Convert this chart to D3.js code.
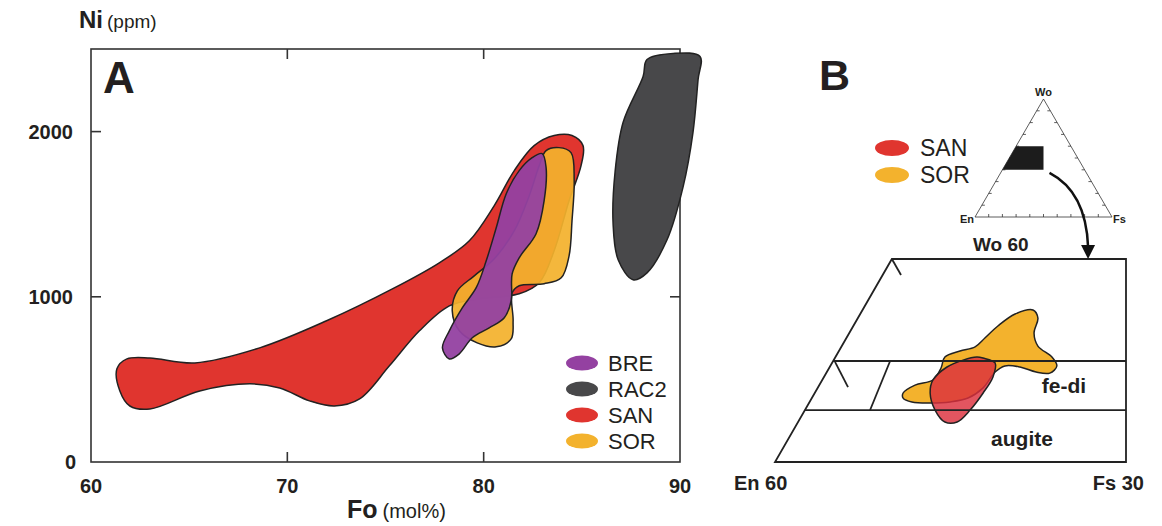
<!DOCTYPE html>
<html>
<head>
<meta charset="utf-8">
<script src="https://cdn.jsdelivr.net/npm/d3@7"></script>
<style>
    body { margin: 0; background: #fff; }
    text { font-family: "Liberation Sans", Arial, sans-serif; fill: #231f20; }
    .frame { fill: none; stroke: #333; stroke-width: 1.6; }
    .tick { stroke: #333; stroke-width: 1.6; }
    .field { stroke: #222; stroke-width: 1.5; stroke-linejoin: round; }
    .bline { fill: none; stroke: #222; stroke-width: 1.8; }
    .tri { fill: none; stroke: #333; stroke-width: 0.8; }
</style>
</head>
<body>
<script>
//panel A tick values
var xTicks = [60, 70, 80, 90],
    yTicks = [0, 1000, 2000];

//panel A fields as [Fo, Ni] outlines
var sanA = [[61.32, 564], [61.83, 624], [63.0, 630], [65.29, 600], [68.59, 691], [72.0, 855],
    [75.35, 1048], [77.74, 1206], [79.27, 1339], [80.54, 1552], [81.56, 1764], [82.57, 1915],
    [83.59, 1976], [84.5, 1976], [85.06, 1915], [84.96, 1794], [84.35, 1582], [83.59, 1279],
    [82.83, 1085], [81.81, 1018], [79.78, 988], [78.25, 945], [76.73, 794], [75.2, 582],
    [73.68, 382], [72.4, 339], [71.13, 370], [69.61, 448], [68.08, 473], [65.54, 430],
    [63.0, 321], [61.98, 339], [61.47, 430]];
var sorA = [[83.18, 1885], [83.84, 1903], [84.45, 1873], [84.61, 1703], [84.5, 1461], [84.35, 1248],
    [83.95, 1115], [83.08, 1079], [81.81, 1067], [81.45, 1024], [81.5, 855], [81.4, 745],
    [80.64, 697], [79.67, 721], [78.76, 794], [78.4, 915], [78.66, 1036], [79.52, 1127],
    [80.54, 1230], [81.56, 1400], [82.32, 1612], [82.83, 1794]];
var breA = [[82.98, 1867], [83.18, 1782], [83.08, 1582], [82.67, 1382], [81.81, 1236], [81.45, 1139],
    [81.4, 976], [81.05, 873], [80.28, 812], [79.42, 752], [78.76, 655], [78.25, 624],
    [77.9, 691], [78.25, 794], [78.91, 933], [79.62, 1055], [80.13, 1218], [80.64, 1418],
    [81.15, 1624], [81.81, 1764], [82.47, 1842]];
var racA = [[88.32, 2436], [89.65, 2473], [91.02, 2455], [90.92, 2315], [90.66, 1994], [90.16, 1667],
    [89.34, 1345], [88.32, 1145], [87.61, 1103], [86.85, 1224], [86.59, 1448], [86.69, 1752],
    [87.1, 2055], [88.12, 2333]];

//legend entries
var legendA = ["BRE", "RAC2", "SAN", "SOR"],
    legendB = ["SAN", "SOR"];
var colors = {BRE: "#9441a1", RAC2: "#48484a", SAN: "#e0352f", SOR: "#f3b22d"};

//panel B fields in quadrilateral units [u, v]
var sorB = [[36.5, 34.0], [39.9, 37.9], [45.0, 40.4], [47.3, 46.3], [48.4, 51.7], [52.7, 54.7],
    [57.0, 56.7], [59.8, 61.1], [63.5, 67.0], [68.4, 72.9], [73.5, 74.9], [74.9, 70.9],
    [73.8, 63.5], [74.9, 57.1], [78.9, 51.7], [80.3, 47.3], [78.3, 43.8], [74.4, 44.3],
    [69.8, 46.8], [65.5, 47.3], [62.7, 44.3], [59.3, 36.5], [55.0, 31.5], [49.9, 29.6],
    [44.2, 29.1], [39.0, 29.6], [36.5, 31.5]];
var sanB = [[59.3, 51.2], [62.7, 48.8], [62.1, 41.9], [59.3, 34.0], [55.6, 25.6], [51.9, 19.7],
    [48.4, 19.7], [45.6, 25.6], [44.2, 34.0], [45.0, 40.4], [49.0, 46.8], [53.6, 50.2],
    [57.5, 51.7]];

//quadrilateral outline and dividers
var quad = [[0, 0], [100, 0], [100, 100], [33.3, 100]],
    divLevels = [25.6, 49.75],
    slantLine = [[32.8, 49.75], [27.1, 25.6]],
    tieLines = [[[33.3, 100], [35.9, 92.1]], [[17.1, 49.3], [20.8, 36.9]]];

//small ternary inset, [Wo, En, Fs]
var triCorners = [[100, 0, 0], [0, 100, 0], [0, 0, 100]],
    triBox = [[60, 40, 0], [60, 20, 20], [40, 30, 30], [40, 60, 0]];

function setChart(){
    var width = 1162,
        height = 526;

    var svg = d3.select("body")
        .append("svg")
        .attr("width", width)
        .attr("height", height);

    // ---------- panel A ----------
    var x = d3.scaleLinear().domain([60, 90]).range([91, 680]);
    var y = d3.scaleLinear().domain([0, 2500]).range([462, 49]);

    var field = d3.line()
        .x(function(d){ return x(d[0]); })
        .y(function(d){ return y(d[1]); })
        .curve(d3.curveCatmullRomClosed.alpha(0.5));

    svg.append("rect")
        .attr("class", "frame")
        .attr("x", x(60))
        .attr("y", y(2500))
        .attr("width", x(90) - x(60))
        .attr("height", y(0) - y(2500));

    //inward ticks on all four sides
    [70, 80].forEach(function(v){
        svg.append("line").attr("class", "tick")
            .attr("x1", x(v)).attr("x2", x(v)).attr("y1", y(0)).attr("y2", y(0) - 10);
        svg.append("line").attr("class", "tick")
            .attr("x1", x(v)).attr("x2", x(v)).attr("y1", y(2500)).attr("y2", y(2500) + 10);
    });
    [1000, 2000].forEach(function(v){
        svg.append("line").attr("class", "tick")
            .attr("x1", x(60)).attr("x2", x(60) + 10).attr("y1", y(v)).attr("y2", y(v));
        svg.append("line").attr("class", "tick")
            .attr("x1", x(90)).attr("x2", x(90) - 10).attr("y1", y(v)).attr("y2", y(v));
    });

    //fields
    svg.append("path").datum(sanA).attr("class", "field")
        .attr("fill", colors.SAN).attr("d", field);
    svg.append("path").datum(sorA).attr("class", "field")
        .attr("fill", colors.SOR).attr("fill-opacity", 0.93).attr("d", field);
    svg.append("path").datum(breA).attr("class", "field")
        .attr("fill", colors.BRE).attr("fill-opacity", 0.95).attr("d", field);
    svg.append("path").datum(racA).attr("class", "field")
        .attr("fill", colors.RAC2).attr("d", field);

    //tick labels
    svg.selectAll(".xlab")
        .data(xTicks)
        .enter()
        .append("text")
        .attr("x", function(d){ return x(d); })
        .attr("y", 493)
        .attr("text-anchor", "middle")
        .attr("font-size", 20)
        .attr("font-weight", "bold")
        .text(function(d){ return d; });

    svg.selectAll(".ylab")
        .data(yTicks)
        .enter()
        .append("text")
        .attr("x", function(d){ return d === 0 ? 76 : 73; })
        .attr("y", function(d){ return y(d) + 7; })
        .attr("text-anchor", "end")
        .attr("font-size", 20)
        .attr("font-weight", "bold")
        .text(function(d){ return d; });

    //axis titles
    var ni = svg.append("text").attr("x", 79).attr("y", 28);
    ni.append("tspan").attr("font-size", 24).attr("font-weight", "bold").text("Ni");
    ni.append("tspan").attr("font-size", 19).attr("dx", 4).text("(ppm)");

    var fo = svg.append("text").attr("x", 347).attr("y", 518);
    fo.append("tspan").attr("font-size", 25).attr("font-weight", "bold").text("Fo");
    fo.append("tspan").attr("font-size", 20).attr("dx", 5).text("(mol%)");

    svg.append("text").attr("x", 103).attr("y", 93)
        .attr("font-size", 44).attr("font-weight", "bold").text("A");

    //legend A
    var legA = svg.selectAll(".legA")
        .data(legendA)
        .enter()
        .append("g")
        .attr("transform", function(d, i){ return "translate(582," + (363 + i * 26) + ")"; });
    legA.append("ellipse").attr("rx", 16).attr("ry", 7.5)
        .attr("fill", function(d){ return colors[d]; });
    legA.append("text").attr("x", 26).attr("y", 8)
        .attr("font-size", 22)
        .text(function(d){ return d; });

    // ---------- panel B ----------
    svg.append("text").attr("x", 819).attr("y", 90)
        .attr("font-size", 43).attr("font-weight", "bold").text("B");

    //ternary inset
    var tx = d3.scaleLinear().domain([0, 100]).range([975, 1112]);
    var ty = d3.scaleLinear().domain([0, 100]).range([217, 99]);
    function tern(p){ return [tx(p[2] + p[0] / 2), ty(p[0])]; }

    svg.append("path")
        .attr("class", "tri")
        .attr("d", d3.line()(triCorners.map(tern)) + "Z");

    //small ticks along triangle sides
    var tks = d3.range(10, 100, 10);
    tks.forEach(function(t){
        var pb = tern([0, 100 - t, t]),
            pl = tern([t, 100 - t, 0]),
            pr = tern([t, 0, 100 - t]);
        svg.append("line").attr("class", "tri")
            .attr("x1", pb[0]).attr("y1", pb[1]).attr("x2", pb[0]).attr("y2", pb[1] - 3);
        svg.append("line").attr("class", "tri")
            .attr("x1", pl[0]).attr("y1", pl[1]).attr("x2", pl[0] + 3).attr("y2", pl[1]);
        svg.append("line").attr("class", "tri")
            .attr("x1", pr[0]).attr("y1", pr[1]).attr("x2", pr[0] - 3).attr("y2", pr[1]);
    });

    svg.append("path")
        .attr("d", d3.line()(triBox.map(tern)) + "Z")
        .attr("fill", "#1c1c1c");

    svg.append("text").attr("x", tx(50)).attr("y", ty(100) - 3)
        .attr("text-anchor", "middle").attr("font-size", 11).attr("font-weight", "bold").text("Wo");
    svg.append("text").attr("x", tx(0) - 1).attr("y", ty(0) + 6)
        .attr("text-anchor", "end").attr("font-size", 11).attr("font-weight", "bold").text("En");
    svg.append("text").attr("x", tx(100) + 1).attr("y", ty(0) + 6)
        .attr("font-size", 11).attr("font-weight", "bold").text("Fs");

    //legend B
    var legB = svg.selectAll(".legB")
        .data(legendB)
        .enter()
        .append("g")
        .attr("transform", function(d, i){ return "translate(892," + (148 + i * 27) + ")"; });
    legB.append("ellipse").attr("rx", 17).attr("ry", 8)
        .attr("fill", function(d){ return colors[d]; });
    legB.append("text").attr("x", 28).attr("y", 8)
        .attr("font-size", 23)
        .text(function(d){ return d; });

    //quadrilateral enlargement
    var bx = d3.scaleLinear().domain([0, 100]).range([775, 1126]);
    var by = d3.scaleLinear().domain([0, 100]).range([462, 259]);
    var bLine = d3.line()
        .x(function(d){ return bx(d[0]); })
        .y(function(d){ return by(d[1]); });
    var bField = d3.line()
        .x(function(d){ return bx(d[0]); })
        .y(function(d){ return by(d[1]); })
        .curve(d3.curveCatmullRomClosed.alpha(0.5));

    svg.append("path").datum(sorB).attr("class", "field")
        .attr("fill", colors.SOR).attr("d", bField);
    svg.append("path").datum(sanB).attr("class", "field")
        .attr("fill", "#dc2f3d").attr("fill-opacity", 0.82).attr("d", bField);

    svg.append("path").attr("class", "bline").attr("d", bLine(quad) + "Z");
    divLevels.forEach(function(v){
        svg.append("path").attr("class", "bline")
            .attr("d", bLine([[33.3 * v / 100, v], [100, v]]));
    });
    svg.append("path").attr("class", "bline").attr("d", bLine(slantLine));
    tieLines.forEach(function(l){
        svg.append("path").attr("class", "bline").attr("d", bLine(l));
    });

    //arrow from inset to enlargement
    var a0 = tern([40, 30, 30]),
        a1 = [bx(89.2), by(100) - 12];
    var arrow = d3.path();
    arrow.moveTo(a0[0] + 6, a0[1] + 3);
    arrow.quadraticCurveTo(a1[0] - 2, a0[1] + 22, a1[0], a1[1]);
    svg.append("path").attr("d", arrow.toString())
        .attr("fill", "none").attr("stroke", "#111").attr("stroke-width", 2.5);
    svg.append("path")
        .attr("d", d3.line()([[a1[0] - 7, a1[1] - 2], [a1[0] + 7, a1[1] - 2], [a1[0], by(100)]]) + "Z")
        .attr("fill", "#111");

    //labels B
    svg.append("text").attr("x", 973).attr("y", 251)
        .attr("font-size", 19).attr("font-weight", "bold").text("Wo 60");
    svg.append("text").attr("x", 1064).attr("y", 393)
        .attr("text-anchor", "middle").attr("font-size", 21).attr("font-weight", "bold").text("fe-di");
    svg.append("text").attr("x", 1022).attr("y", 446)
        .attr("text-anchor", "middle").attr("font-size", 21).attr("font-weight", "bold").text("augite");
    svg.append("text").attr("x", 734).attr("y", 490)
        .attr("font-size", 20).attr("font-weight", "bold").text("En 60");
    svg.append("text").attr("x", 1144).attr("y", 490)
        .attr("text-anchor", "end").attr("font-size", 20).attr("font-weight", "bold").text("Fs 30");
};

window.onload = setChart;
</script>
</body>
</html>
